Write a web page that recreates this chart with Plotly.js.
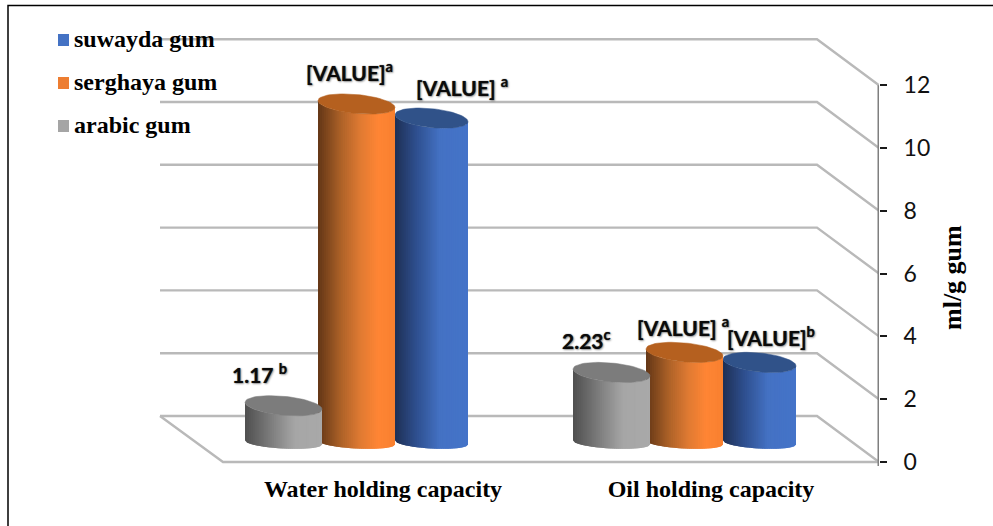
<!DOCTYPE html>
<html>
<head>
<meta charset="utf-8">
<script src="https://cdn.plot.ly/plotly-3.0.1.min.js"></script>
<style>html,body{margin:0;padding:0;background:#fff}</style>
</head>
<body>
<div id="chart" style="width:993px;height:526px"></div>
<script>
// Values per gum type, in ml/g gum
const categories = ["Water holding capacity", "Oil holding capacity"];
const seriesNames = ["suwayda gum", "serghaya gum", "arabic gum"];
const suwayda = [10.33, 2.55];
const serghaya = [10.78, 2.87];
const arabic = [1.17, 2.23];
const suwaydaLabels = ["[VALUE] <sup>a</sup>", "[VALUE]<sup>b</sup>"];
const serghayaLabels = ["[VALUE]<sup>a</sup>", "[VALUE] <sup>a</sup>"];
const arabicLabels = ["1.17 <sup>b</sup>", "2.23<sup>c</sup>"];
const yTicks = [0, 2, 4, 6, 8, 10, 12];

// Scale of the front plane, used to turn pixel sized details into axis units
const W = 993, H = 526;
const PLOT_RIGHT = 879, PLOT_BOTTOM = 466, Y0_PX = 462;
const X0_PX = 383, PX_PER_CAT = 328, PX_PER_UNIT = 31.4;
const dx = p => p / PX_PER_CAT;
const dy = p => p / PX_PER_UNIT;

const xRange = [dx(-X0_PX), dx(PLOT_RIGHT - X0_PX)];
const yRange = [dy(Y0_PX - PLOT_BOTTOM), dy(Y0_PX)];

// Oblique box: the back wall sits up and to the left of the front plane
const depthX = dx(62), depthY = dy(46);
const backLeft = dx(160 - X0_PX);
const frontLeft = dx(223 - X0_PX);
const xEnd = xRange[1];

const traces = [];
const GRID = "#b9b9b9";

// Back wall grid lines with their return to the axis
yTicks.forEach(v => {
  traces.push({
    type: "scatter", mode: "lines", hoverinfo: "skip", showlegend: false, cliponaxis: false,
    x: [backLeft, xEnd - depthX, xEnd],
    y: [v + depthY, v + depthY, v],
    line: {color: GRID, width: 2.4}
  });
});
// Floor front edge and left side
traces.push({
  type: "scatter", mode: "lines", hoverinfo: "skip", showlegend: false, cliponaxis: false,
  x: [backLeft, frontLeft, xEnd],
  y: [depthY, 0, 0],
  line: {color: GRID, width: 2.4}
});
// Value axis spine
traces.push({
  type: "scatter", mode: "lines", hoverinfo: "skip", showlegend: false, cliponaxis: false,
  x: [xEnd, xEnd],
  y: [dy(-4), 12],
  line: {color: "#7f7f7f", width: 3}
});

// Cylinder rendering
const BASE = dy(Y0_PX - 442.5);
const RY_TOP = dy(9.5), SKEW_TOP = dy(3.5);
const RY_BASE = dy(6), SKEW_BASE = dy(2);
const SLICES = 40;

const hex = c => [1, 3, 5].map(i => parseInt(c.substr(i, 2), 16));
function ramp(stops, t) {
  let i = 0;
  while (i < stops.length - 2 && t > stops[i + 1][0]) i++;
  const [t0, c0] = stops[i], [t1, c1] = stops[i + 1];
  const f = Math.min(1, Math.max(0, (t - t0) / (t1 - t0)));
  const a = hex(c0), b = hex(c1);
  return "rgb(" + a.map((v, k) => Math.round(v + (b[k] - v) * f)).join(",") + ")";
}

function cylinder(xc, rxPx, value, stops, capColor) {
  const rx = dx(rxPx);
  const top = BASE + value;
  const lower = (u, vc, ry, sk) => vc - sk * u - ry * Math.sqrt(Math.max(0, 1 - u * u));
  for (let i = 0; i < SLICES; i++) {
    // Each slice reaches under the next one so no seams show between them
    const u0 = -1 + 2 * i / SLICES;
    const u1 = Math.min(1, -1 + 2 * (i + 2) / SLICES);
    const us = [u0, (u0 + u1) / 2, u1];
    const xs = [], ys = [];
    us.forEach(u => { xs.push(xc + rx * u); ys.push(lower(u, BASE, RY_BASE, SKEW_BASE)); });
    us.slice().reverse().forEach(u => { xs.push(xc + rx * u); ys.push(lower(u, top, RY_TOP, SKEW_TOP)); });
    const col = ramp(stops, (i + 0.5) / SLICES);
    traces.push({
      type: "scatter", mode: "lines", hoverinfo: "skip", showlegend: false,
      x: xs, y: ys, fill: "toself", fillcolor: col,
      line: {color: col, width: 0}
    });
  }
  const ex = [], ey = [];
  for (let k = 0; k <= 72; k++) {
    const a = 2 * Math.PI * k / 72;
    ex.push(xc + rx * Math.cos(a));
    ey.push(top + RY_TOP * Math.sin(a) - SKEW_TOP * Math.cos(a));
  }
  traces.push({
    type: "scatter", mode: "lines", hoverinfo: "skip", showlegend: false,
    x: ex, y: ey, fill: "toself", fillcolor: capColor,
    line: {color: capColor, width: 0.5}
  });
}

const BLUE = [[0, "#1e3055"], [0.3, "#2f5090"], [0.62, "#4472c4"], [1, "#4473c8"]];
const ORANGE = [[0, "#633616"], [0.3, "#ad6228"], [0.55, "#e07a32"], [0.78, "#ff8534"], [1, "#f8802f"]];
const GREY = [[0, "#4f4f4f"], [0.3, "#787878"], [0.65, "#a6a6a6"], [1, "#a9a9a9"]];

// Painted back to front so neighbouring cylinders overlap correctly
categories.forEach((c, i) => {
  cylinder(i + dx(48.5), 36.5, suwayda[i], BLUE, "#305289");
  cylinder(i + dx(-26.5), 38.5, serghaya[i], ORANGE, "#b5601f");
  cylinder(i + dx(-99.5), 38.5, arabic[i], GREY, "#7c7c7c");
});

// Data labels sit above their own cylinder
const labelFont = {family: "Lato, 'Noto Sans', sans-serif", size: 21, color: "#0a0a0a",
  weight: 700, shadow: "0 0 1px #444, 1px 1px 2px rgba(0,0,0,0.4)"};
const annotations = [];
function dataLabel(x, value, text, xShift, yShift) {
  annotations.push({
    xref: "x", yref: "y", x: x, y: BASE + value, text: text, showarrow: false,
    xshift: xShift, yshift: yShift, font: labelFont, xanchor: "center", yanchor: "middle"
  });
}
dataLabel(0 + dx(-99.5), arabic[0], arabicLabels[0], -24, 33);
dataLabel(0 + dx(-26.5), serghaya[0], serghayaLabels[0], -7, 33);
dataLabel(0 + dx(48.5), suwayda[0], suwaydaLabels[0], 30, 32);
dataLabel(1 + dx(-99.5), arabic[1], arabicLabels[1], -25, 33);
dataLabel(1 + dx(-26.5), serghaya[1], serghayaLabels[1], -2, 26);
dataLabel(1 + dx(48.5), suwayda[1], suwaydaLabels[1], 11, 26);

// Value axis title
const serifBold = size => ({family: "'Liberation Serif', serif", size: size, color: "#000", weight: 700});
annotations.push({
  xref: "paper", yref: "paper", xanchor: "center", yanchor: "middle", showarrow: false,
  x: 952 / PLOT_RIGHT, y: (PLOT_BOTTOM - 278) / PLOT_BOTTOM, textangle: -90,
  text: "ml/g gum",
  font: serifBold(26)
});

// Key in the upper left corner
const legendColors = ["#4472c4", "#ed7d31", "#a5a5a5"];
const legendRows = [40, 83, 126];
const shapes = [];
seriesNames.forEach((name, i) => {
  const yMid = legendRows[i];
  shapes.push({
    type: "rect", xref: "paper", yref: "paper", layer: "above",
    x0: 58 / PLOT_RIGHT, x1: 69 / PLOT_RIGHT,
    y0: (PLOT_BOTTOM - yMid - 6) / PLOT_BOTTOM, y1: (PLOT_BOTTOM - yMid + 6) / PLOT_BOTTOM,
    fillcolor: legendColors[i], line: {width: 0}
  });
  annotations.push({
    xref: "paper", yref: "paper", xanchor: "left", yanchor: "middle", showarrow: false,
    x: 72 / PLOT_RIGHT, y: (PLOT_BOTTOM - yMid + 0.5) / PLOT_BOTTOM,
    text: name,
    font: serifBold(24)
  });
});

// Surrounding frame, open on the right and at the bottom
shapes.push({
  type: "path", xref: "paper", yref: "paper", layer: "above",
  path: "M " + (8 / PLOT_RIGHT) + " " + ((PLOT_BOTTOM - H) / PLOT_BOTTOM) +
        " L " + (8 / PLOT_RIGHT) + " " + ((PLOT_BOTTOM - 5.5) / PLOT_BOTTOM) +
        " L " + (W / PLOT_RIGHT) + " " + ((PLOT_BOTTOM - 5.5) / PLOT_BOTTOM),
  line: {color: "#000", width: 1.5}
});

const layout = {
  width: W, height: H, showlegend: false,
  paper_bgcolor: "#fff", plot_bgcolor: "#fff",
  margin: {l: 0, r: W - PLOT_RIGHT, t: 0, b: H - PLOT_BOTTOM, pad: 0},
  xaxis: {
    type: "linear", range: xRange, showgrid: false, zeroline: false, showline: false,
    tickmode: "array", tickvals: categories.map((c, i) => i), ticktext: categories,
    ticks: "outside", ticklen: 1, tickcolor: "rgba(0,0,0,0)",
    tickfont: serifBold(24)
  },
  yaxis: {
    range: yRange, side: "right", showgrid: false, zeroline: false, showline: false,
    tickmode: "array", tickvals: yTicks, ticktext: yTicks.map(String),
    ticks: "outside", ticklen: 7, tickwidth: 2, tickcolor: "#1a1a1a",
    ticklabelstandoff: 12,
    tickfont: {family: "Lato, 'Noto Sans', sans-serif", size: 23, color: "#111"}
  },
  shapes: shapes,
  annotations: annotations
};

Plotly.newPlot("chart", traces, layout, {displayModeBar: false, staticPlot: true});
</script>
</body>
</html>
